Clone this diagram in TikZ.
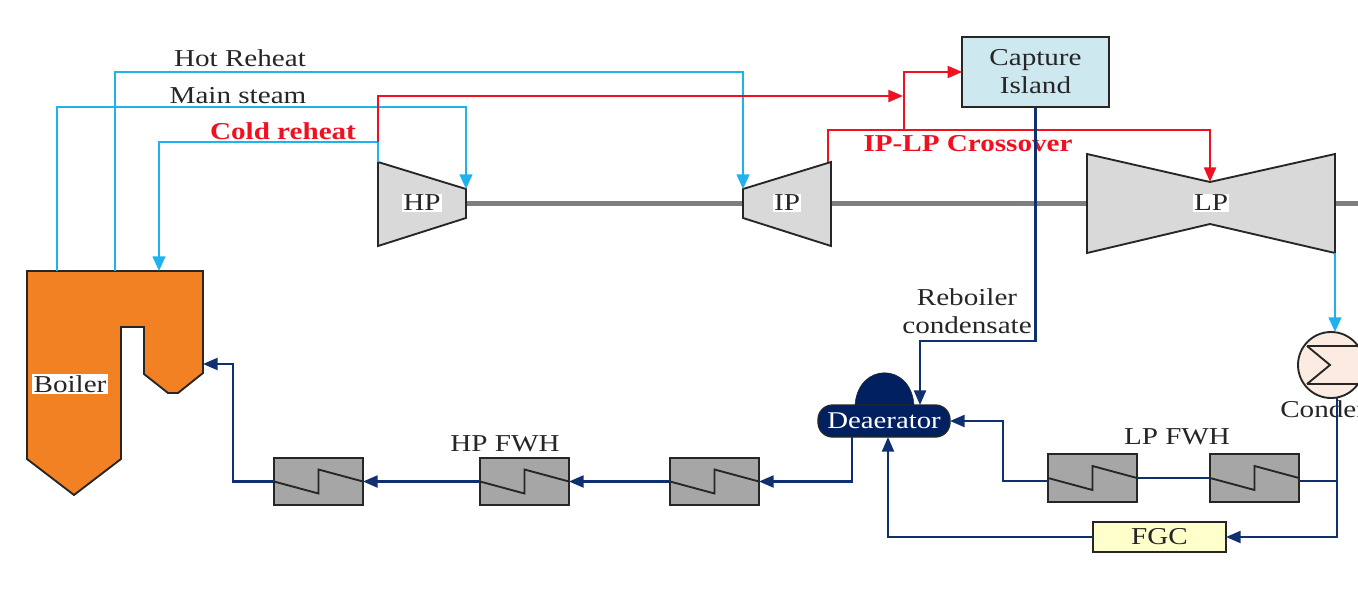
\documentclass[tikz,border=0pt]{standalone}
\usepackage{fontspec}
\setmainfont[FakeStretch=1.2]{Liberation Serif}
\usetikzlibrary{positioning, arrows.meta}
\definecolor{steamblue}{HTML}{1FB3EE}
\definecolor{linered}{HTML}{F01020}
\definecolor{waternavy}{HTML}{0F2F70}
\definecolor{deanavy}{HTML}{002060}
\definecolor{boilerorange}{HTML}{F28123}
\definecolor{turbinegray}{HTML}{D9D9D9}
\definecolor{fwhgray}{HTML}{A6A6A6}
\definecolor{shaftgray}{HTML}{7F7F7F}
\definecolor{capturefill}{HTML}{CDE8EF}
\definecolor{fgcfill}{HTML}{FFFFCC}
\definecolor{condfill}{HTML}{FBEBE0}
\tikzset{
	labeltext/.style={font=\fontsize{18.2}{21}\selectfont, align=center, text=black!85, inner sep=1pt},
	redtext/.style={font=\fontsize{18.2}{21}\selectfont\bfseries, text=linered, inner sep=0pt}
}
\tikzset{
	steamline/.style={draw=steamblue, line width=1.7pt, -{Triangle[length=11pt,width=9.5pt]}},
	redline/.style={draw=linered, line width=1.7pt, -{Triangle[length=11pt,width=9pt]}},
	waterline/.style={draw=waternavy, line width=1.7pt, -{Triangle[length=11pt,width=9pt]}}
}
\begin{document}
\begin{tikzpicture}[x=0.75pt,y=-0.75pt]

\tikzset{
    fwhbox/.style={
        draw=black!85,
        line width=1.4pt,
        fill=fwhgray,
        minimum width=66.75pt,
        minimum height=35.5pt,
        inner sep=0pt,
        outer sep=0pt
    },
    plainbox/.style={
        draw=black!85,
        line width=1.4pt,
        align=center,
        text=black!85,
        font=\fontsize{18.2}{21}\selectfont,
        inner sep=0pt,
        outer sep=0pt
    },
    machine/.style={draw=black!85, line width=1.4pt, line join=miter},
    shaftline/.style={draw=shaftgray, line width=3.75pt}
}

\useasboundingbox (0,0) rectangle (1358,592);
\clip (0,0) rectangle (1358,592);

% ports
\coordinate (boilerms) at (57,271);
\coordinate (boilerhr) at (115,271);
\coordinate (boilercr) at (159,271);
\coordinate (boilerin) at (203,364);
\coordinate (hptop) at (378,162);
\coordinate (hpin) at (466,189);
\coordinate (hpout) at (466,203);
\coordinate (ipin) at (743,189);
\coordinate (ipshaft) at (743,203);
\coordinate (ipout) at (831,203);
\coordinate (ipbleed) at (828,162);
\coordinate (lpin) at (1210,182);
\coordinate (lpshaft) at (1087,203);
\coordinate (lpout) at (1335,203);
\coordinate (lpexit) at (1335,253);
\coordinate (shaftend) at (1358,203);
\coordinate (hotbend) at (743,72);
\coordinate (mainbend) at (466,107);
\coordinate (coldtee) at (378,142);
\coordinate (redend) at (903,96);
\coordinate (crossover) at (904,130);
\coordinate (rebcorner) at (1035.5,341);
\coordinate (deain) at (920,405);
\coordinate (deaout) at (852,437);
\coordinate (deabot) at (888,437);
\coordinate (lpbend) at (1003,481);
\coordinate (condin) at (1335,332);
\coordinate (condout) at (1337,397);
\coordinate (condtee) at (1337,481);
\coordinate (boilerbend) at (233,481.5);

% shaft
\draw[shaftline] (hpout) -- (ipshaft);
\draw[shaftline] (ipout) -- (lpshaft);
\draw[shaftline] (lpout) -- (shaftend);

% boiler and turbines
\draw[machine, fill=boilerorange] (27,271) -- (203,271) -- (203,373) -- (178,393) -- (168,393)
  -- (144,374) -- (144,327) -- (121,327) -- (121,459) -- (74,495) -- (27,459) -- cycle;
\draw[machine, fill=turbinegray] (378,162) -- (466,189) -- (466,218) -- (378,246) -- cycle;
\draw[machine, fill=turbinegray] (743,189) -- (831,162) -- (831,246) -- (743,218) -- cycle;
\draw[machine, fill=turbinegray] (1087,154) -- (1210,182) -- (1335,154) -- (1335,253) -- (1210,224) -- (1087,253) -- cycle;

% condenser
\draw[machine, fill=condfill] (1331,365) circle [radius=24.75pt];
\draw[machine] (1307,346) -- (1358,346);
\draw[machine] (1307,384) -- (1358,384);
\draw[machine] (1307,346) -- (1330,365) -- (1307,384);

% deaerator
\draw[draw=black!85, fill=deanavy] (855,405) .. controls (858,362) and (911,362) .. (914,405) -- cycle;
\node[draw=black!85, line width=1pt, fill=deanavy, text=white, rounded corners=11pt,
      minimum width=99pt, minimum height=24pt, inner sep=0pt, outer sep=0pt,
      font=\fontsize{18}{21}\selectfont] (deaerator) at (884,421) {Deaerator};

% boxes
\node[plainbox, fill=capturefill, minimum width=110pt, minimum height=52.5pt] (capture) at (1035.5,72) {Capture\\Island};
\node[plainbox, fill=fgcfill, minimum width=99.75pt, minimum height=22.5pt] (fgc) at (1159.5,537) {FGC};
\node[fwhbox] (fwh1) at (318.5,481.5) {};
\node[fwhbox] (fwh2) at (524.5,481.5) {};
\node[fwhbox] (fwh3) at (714.5,481.5) {};
\node[fwhbox] (lpfwh1) at (1092.5,478) {};
\node[fwhbox] (lpfwh2) at (1254.5,478) {};

\foreach \n in {fwh1,fwh2,fwh3,lpfwh1,lpfwh2} {
    \draw[machine] (\n.west) -- ++(44.5,12) -- ++(0,-24) -- (\n.east);
}

% labels
\node[labeltext] (hotlabel) at (240,58) {Hot Reheat};
\node[labeltext] (mainlabel) at (238,96) {Main steam};
\node[redtext] (coldlabel) at (283,131) {Cold reheat};
\node[redtext] (crosslabel) at (968,144) {IP-LP Crossover};
\node[labeltext] (reblabel) at (967,311) {Reboiler\\condensate};
\node[labeltext] (hpfwhlabel) at (505,444) {HP FWH};
\node[labeltext] (lpfwhlabel) at (1177,437) {LP FWH};
\node[labeltext, anchor=west, inner sep=0pt] (condlabel) at (1280,409) {Condenser};
\node[labeltext, fill=white] (hplabel) at (422,203) {HP};
\node[labeltext, fill=white] (iplabel) at (787,203) {IP};
\node[labeltext, fill=white] (lplabel) at (1211,203) {LP};
\node[labeltext, fill=white] (boilerlabel) at (70,384) {Boiler};

% steam
\draw[steamline] (boilerhr) |- (hotbend) -- (ipin);
\draw[steamline] (boilerms) |- (mainbend) -- (hpin);
\draw[steamline] (hptop) -- (coldtee) -| (boilercr);
\draw[steamline] (lpexit) -- (condin);

% red lines
\draw[redline] (coldtee) |- (redend);
\draw[redline] (ipbleed) |- (crossover) -| (lpin);
\draw[redline] (crossover) |- (capture.west);

% water
\draw[waterline] (capture.south) -- (rebcorner) -| (deain);
\draw[waterline] (deaout) |- (fwh3.east);
\draw[waterline] (fwh3.west) -- (fwh2.east);
\draw[waterline] (fwh2.west) -- (fwh1.east);
\draw[waterline] (fwh1.west) -- (boilerbend) |- (boilerin);
\draw[waterline] (lpfwh1.west |- lpbend) -- (lpbend) |- (deaerator.east);
\draw[waterline, -] (lpfwh1.east) -- (lpfwh2.west);
\draw[waterline, -] (lpfwh2.east |- condtee) -- (condtee);
\draw[waterline] (condout) |- (fgc.east);
\draw[waterline] (fgc.west) -| (deabot);

\end{tikzpicture}
\end{document}
